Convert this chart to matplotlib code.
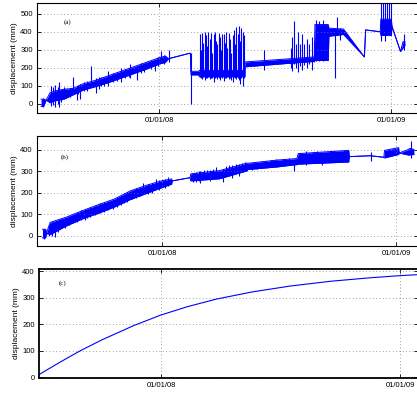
import datetime
import numpy as np
import matplotlib
matplotlib.use("Agg")
import matplotlib.pyplot as plt
import matplotlib.dates as mdates

plt.rcParams['font.family'] = ['Liberation Sans', 'DejaVu Sans']

# days are counted from 01/01/2008, values in mm

# (a) raw trace: band between lo and hi (lo == hi means a single line)
a_days = [-186, -182, -178, -172, -165, -150, -135, -120, -100, -80, -60, -40, -20, 0, 10, 15,
          48, 49.5, 50.5, 63, 63.5, 135.5, 136, 207, 208, 245, 246, 267, 268, 291,
          324, 326, 349, 350, 366.5, 367.5, 381, 385, 388]
a_lo = [-15, -15, 20, 5, 15, 25, 50, 75, 95, 117, 142, 167, 192, 220, 230, 250,
        280, 280, 160, 160, 150, 150, 205, 225, 225, 235, 240, 240, 375, 385,
        260, 410, 400, 380, 380, 430, 290, 310, 325]
a_hi = [25, 25, 20, 60, 70, 80, 85, 110, 130, 155, 180, 205, 230, 255, 265, 250,
        280, 280, 180, 180, 185, 185, 232, 250, 250, 260, 440, 440, 420, 415,
        260, 410, 400, 470, 470, 430, 290, 345, 345]
a_spk_days = [-183, -171, -168, -164, -160, -157, -154, -150, -136, -130, -124, -107, -100, -95,
              -80, -60, -45, -35, -6, 3, 15, 50,
              -146, -141, -128, -118, -113, -92, -87, -73, -67, -54, -48, -28, -24, -12, -2, 8,
              64, 66, 68, 70, 72, 74, 76, 78, 80, 82, 84, 86, 88, 90, 92, 94, 96, 98,
              100, 102, 104, 106, 108, 110, 112, 114, 116, 118, 120, 122, 124, 126, 128, 130, 132, 134,
              165, 208, 210, 213, 216, 219, 222, 225, 229, 233, 237, 241, 244,
              248, 252, 258, 277, 281, 286,
              350, 351, 353, 356, 357, 359, 363, 366, 386]
a_spk_lo = [-20, -15, -10, -20, 0, -20, 10, 30, 60, 20, 25, 100, 60, 80,
            100, 120, 140, 130, 180, 225, 230, 0,
            30, 38, 55, 70, 72, 98, 100, 118, 128, 140, 150, 172, 176, 195, 210, 222,
            150, 140, 135, 150, 130, 145, 140, 150, 135, 145, 140, 120, 140, 150, 135, 145, 130, 150,
            140, 125, 145, 140, 150, 135, 145, 130, 120, 150, 140, 135, 145, 130, 110, 140, 100, 145,
            190, 200, 180, 220, 200, 175, 210, 190, 215, 200, 220, 190, 230,
            240, 240, 240, 140, 380, 355,
            380, 350, 380, 380, 350, 380, 380, 380, 300]
a_spk_hi = [30, 100, 90, 105, 95, 120, 80, 90, 150, 100, 110, 210, 140, 150,
            180, 200, 220, 200, 245, 293, 298, 280,
            82, 86, 105, 120, 126, 148, 150, 168, 178, 193, 200, 225, 228, 245, 262, 270,
            390, 300, 395, 340, 400, 380, 320, 400, 360, 395, 280, 390, 400, 350, 330, 395, 370, 300,
            390, 385, 340, 400, 310, 395, 360, 280, 380, 410, 330, 425, 390, 430, 350, 420, 400, 380,
            300, 310, 370, 460, 330, 400, 330, 390, 330, 360, 330, 370, 350,
            465, 460, 465, 400, 480, 420,
            560, 450, 560, 560, 440, 560, 560, 560, 390]

# (b) corrected trace
b_days = [-187, -182, -181, -175, -150, -125, -100, -75, -50, -25, 0, 15, 16, 44, 45,
          90, 133, 134, 180, 211, 213, 292, 293, 326, 347, 348, 370, 371, 386, 387, 394]
b_lo = [-10, -10, 10, 5, 45, 78, 104, 133, 168, 196, 224, 240, 255, 270, 255,
        265, 302, 308, 320, 331, 333, 343, 368, 372, 365, 362, 378, 385, 375, 376, 378]
b_hi = [30, 30, 10, 62, 86, 116, 144, 170, 208, 234, 256, 264, 255, 270, 288,
        303, 338, 337, 352, 359, 382, 397, 368, 372, 365, 397, 410, 385, 402, 406, 402]
b_spk_days = [-185, -172, -168, -163, -120, -90, -60, -30, -10, 60, 75, 95, 110, 120,
              206, 225, 250, 327, 389,
              -177, -173, -166, -159, -152, -146, -139, -133, -127, -118, -112, -105, -97,
              -84, -77, -70, -64, -55, -47, -41, -35, -22, -16, -4, 5, 10,
              48, 53, 58, 66, 71, 80, 85, 100, 104, 115, 125, 130,
              140, 148, 155, 163, 170, 178, 190, 198,
              218, 230, 236, 243, 256, 262, 270, 278, 285]
b_spk_lo = [-15, 0, -5, 15, 75, 110, 150, 195, 220, 245, 255, 250, 270, 280,
            300, 330, 330, 350, 360,
            0, 12, 22, 32, 38, 48, 58, 64, 72, 82, 86, 96, 104,
            118, 125, 135, 142, 158, 170, 176, 184, 195, 200, 214, 224, 230,
            250, 252, 256, 262, 262, 270, 272, 282, 280, 292, 298, 300,
            308, 312, 315, 320, 322, 326, 330, 330,
            335, 338, 342, 340, 345, 344, 348, 346, 350]
b_spk_hi = [30, 60, 55, 70, 125, 155, 195, 245, 265, 300, 305, 310, 330, 335,
            345, 395, 390, 390, 440,
            48, 58, 68, 78, 86, 92, 102, 110, 118, 126, 134, 140, 150,
            162, 172, 180, 188, 202, 214, 222, 228, 240, 246, 258, 266, 272,
            292, 296, 300, 304, 308, 312, 318, 325, 330, 335, 340, 343,
            338, 342, 345, 348, 352, 355, 356, 360,
            384, 386, 388, 392, 390, 394, 393, 396, 398]

# (c) fitted curve
c_days = [-186, -155, -124, -90, -42, 0, 40, 85, 140, 198, 260, 320, 366, 395]
c_vals = [12, 57, 100, 142, 195, 235, 266, 295, 322, 344, 362, 375, 383, 387]

base = mdates.date2num(datetime.date(2008, 1, 1))
tick_days = [0, 366]

fig = plt.figure(figsize=(4.17, 3.94), dpi=100)
ax_a = fig.add_axes([0.0887, 0.7132, 0.9137, 0.2792])
ax_b = fig.add_axes([0.0887, 0.3756, 0.9137, 0.2792])
ax_c = fig.add_axes([0.0935, 0.0406, 0.9089, 0.2766])

blue = (0, 0, 1)

ax_a.fill_between(base + np.array(a_days), a_lo, a_hi, color=blue, lw=0)
ax_a.plot(base + np.array(a_days), a_lo, color=blue, lw=0.7)
ax_a.plot(base + np.array(a_days), a_hi, color=blue, lw=0.7)
ax_a.vlines(base + np.array(a_spk_days), a_spk_lo, a_spk_hi, color=blue, lw=0.8)

ax_b.fill_between(base + np.array(b_days), b_lo, b_hi, color=blue, lw=0)
ax_b.plot(base + np.array(b_days), b_lo, color=blue, lw=0.7)
ax_b.plot(base + np.array(b_days), b_hi, color=blue, lw=0.7)
ax_b.vlines(base + np.array(b_spk_days), b_spk_lo, b_spk_hi, color=blue, lw=0.8)

ax_c.plot(base + np.array(c_days), c_vals, color=blue, lw=0.8)

setup = [
    (ax_a, (-192.5, 408.6), (-52, 560), [0, 100, 200, 300, 400, 500], '(a)', (0.08, 0.83), 0.8),
    (ax_b, (-195.6, 400.4), (-48, 464), [0, 100, 200, 300, 400], '(b)', (0.073, 0.81), 0.8),
    (ax_c, (-186.8, 393.6), (-2, 408), [0, 100, 200, 300, 400], '(c)', (0.062, 0.87), 1.3),
]
for ax, xl, yl, yt, lab, pos, sw in setup:
    ax.set_xlim(base + xl[0], base + xl[1])
    ax.set_ylim(*yl)
    ax.set_yticks(yt)
    ax.set_xticks([base + d for d in tick_days])
    ax.xaxis.set_major_formatter(mdates.DateFormatter('%m/%d/%y'))
    ax.tick_params(direction='in', top=True, right=True, length=3, width=0.6,
                   labelsize=5.5, pad=3)
    ax.grid(True, color='0.5', linestyle=(0, (1, 3)), lw=0.6)
    for s in ax.spines.values():
        s.set_linewidth(sw)
    ax.set_ylabel('displacement (mm)', fontsize=6, labelpad=2)
    ax.text(pos[0], pos[1], lab, transform=ax.transAxes, fontsize=5,
            family=['Liberation Serif', 'DejaVu Serif'], va='center', ha='center')

plt.savefig("out.png", dpi=100)
